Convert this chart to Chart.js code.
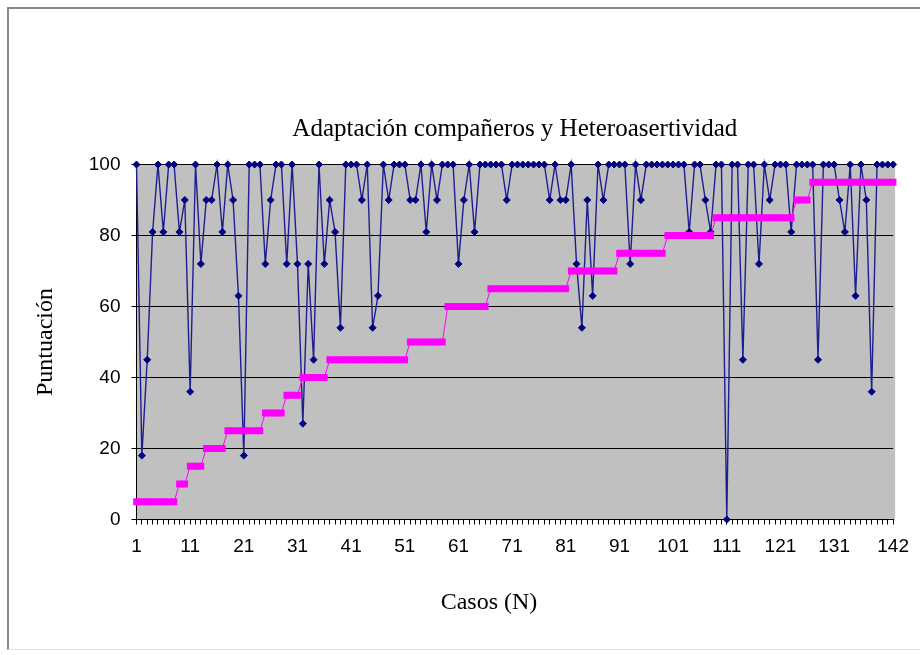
<!DOCTYPE html>
<html><head><meta charset="utf-8">
<script src="https://cdn.jsdelivr.net/npm/chart.js@4.4.1/dist/chart.umd.min.js"></script>
<style>
html,body{margin:0;padding:0;background:#fff;}
#wrap{position:relative;width:920px;height:655px;overflow:hidden;}
#frame{position:absolute;left:7px;top:7px;width:960px;height:640px;border-top:2px solid #8a8a8a;border-left:2px solid #8a8a8a;border-bottom:1px solid #e2e2e2;pointer-events:none;}
canvas{position:absolute;left:0;top:0;}
</style></head><body>
<div id="wrap"><canvas id="c" width="920" height="655"></canvas><div id="frame"></div></div>
<script>
const chartTitle = 'Adaptación compañeros y Heteroasertividad';
const xTitle = 'Casos (N)';
const yTitle = 'Puntuación';
const casos = Array.from({length: 142}, (_, i) => String(i + 1));
const xTickLabels = ['1','11','21','31','41','51','61','71','81','91','101','111','121','131','142'];
const yTicks = [0, 20, 40, 60, 80, 100];

const adaptacion = [
 100,18,45,81,100,81,100,100,81,90,
 36,100,72,90,90,100,81,100,90,63,
 18,100,100,100,72,90,100,100,72,100,
 72,27,72,45,100,72,90,81,54,100,
 100,100,90,100,54,63,100,90,100,100,
 100,90,90,100,81,100,90,100,100,100,
 72,90,100,81,100,100,100,100,100,90,
 100,100,100,100,100,100,100,90,100,90,
 90,100,72,54,90,63,100,90,100,100,
 100,100,72,100,90,100,100,100,100,100,
 100,100,100,81,100,100,90,81,100,100,
 0,100,100,45,100,100,72,100,90,100,
 100,100,81,100,100,100,100,45,100,100,
 100,90,81,100,63,100,90,36,100,100,
 100,100
];

const heteroasertividad = [
 5,5,5,5,5,5,5,5,10,10,
 15,15,15,20,20,20,20,25,25,25,
 25,25,25,25,30,30,30,30,35,35,
 35,40,40,40,40,40,45,45,45,45,
 45,45,45,45,45,45,45,45,45,45,
 45,50,50,50,50,50,50,50,60,60,
 60,60,60,60,60,60,65,65,65,65,
 65,65,65,65,65,65,65,65,65,65,
 65,70,70,70,70,70,70,70,70,70,
 75,75,75,75,75,75,75,75,75,80,
 80,80,80,80,80,80,80,80,85,85,
 85,85,85,85,85,85,85,85,85,85,
 85,85,85,90,90,90,95,95,95,95,
 95,95,95,95,95,95,95,95,95,95,
 95,95
];

const serif = '"Liberation Serif", "Times New Roman", serif';

const bgPlugin = {
  id: 'bg',
  beforeDraw(chart) {
    const {ctx, chartArea: a} = chart;
    ctx.save();
    ctx.fillStyle = '#c0c0c0';
    ctx.fillRect(a.left, a.top, a.right - a.left + 2, a.bottom - a.top);
    ctx.restore();
  },
  afterDraw(chart) {
    const {ctx, chartArea: a} = chart;
    ctx.save();
    ctx.fillStyle = '#000';
    ctx.textAlign = 'center';
    ctx.textBaseline = 'middle';
    ctx.font = '25px ' + serif;
    ctx.fillText(chartTitle, (a.left + a.right) / 2, 129);
    ctx.font = '24px ' + serif;
    ctx.fillText(xTitle, 489, 603);
    ctx.restore();
  }
};

const tickFont = {family: '"Liberation Sans", Arial, sans-serif', size: 19};
const titleFont = {family: serif, size: 24};

new Chart(document.getElementById('c'), {
  type: 'line',
  data: {
    labels: casos,
    datasets: [
      {
        label: 'Adaptación compañeros',
        data: adaptacion,
        borderColor: '#1e1e90',
        borderWidth: 1.4,
        pointStyle: 'rectRot',
        pointRadius: 3.5,
        pointBackgroundColor: '#000080',
        pointBorderColor: '#000080',
        pointBorderWidth: 1,
        tension: 0,
        clip: false,
        order: 2
      },
      {
        label: 'Heteroasertividad',
        data: heteroasertividad,
        borderColor: '#ff00ff',
        borderWidth: 1,
        pointStyle: 'line',
        pointRadius: 3.3,
        pointBorderColor: '#ff00ff',
        pointBackgroundColor: '#ff00ff',
        pointBorderWidth: 7,
        tension: 0,
        clip: false,
        order: 1
      }
    ]
  },
  options: {
    responsive: false,
    animation: false,
    events: [],
    layout: {padding: {left: 0, right: 26.5, top: 164.5, bottom: 0}},
    plugins: {legend: {display: false}, tooltip: {enabled: false}, title: {display: false}},
    scales: {
      x: {
        type: 'category',
        offset: false,
        grid: {display: true, drawOnChartArea: false, drawTicks: true, tickLength: 5, color: '#000', offset: false},
        border: {display: true, color: '#000', width: 1},
        ticks: {
          autoSkip: false, maxRotation: 0, minRotation: 0, padding: 11, color: '#000', font: tickFont,
          callback: function(v, i) { const l = casos[i]; return xTickLabels.includes(l) ? l : ''; }
        },
        title: {display: false},
        afterFit(s) { s.height = 135.5; }
      },
      y: {
        min: 0, max: 100,
        afterBuildTicks(s) { s.ticks = yTicks.map(v => ({value: v})); },
        grid: {display: true, color: '#000', lineWidth: 1, drawTicks: true, tickLength: 5},
        border: {display: true, color: '#000', width: 1},
        ticks: {padding: 11, color: '#000', font: tickFont},
        title: {display: true, text: yTitle, color: '#000', font: titleFont, padding: {top: 31, bottom: 0}},
        afterFit(s) { s.width = 136.5; }
      }
    }
  },
  plugins: [bgPlugin]
});
</script>
</body></html>
